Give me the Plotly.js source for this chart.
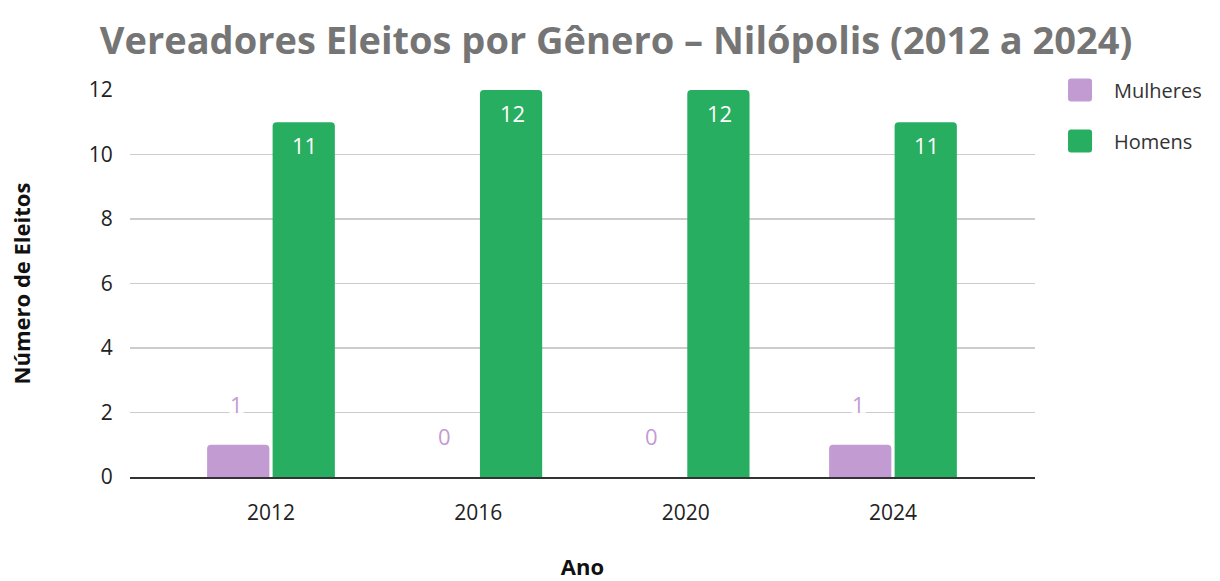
<!DOCTYPE html>
<html><head><meta charset="utf-8">
<script src="https://cdn.plot.ly/plotly-3.0.1.min.js"></script>
<style>body{margin:0;background:#fff}#c{width:1220px;height:581px}</style>
</head><body><div id="c"></div>
<script>
const years = ['2012', '2016', '2020', '2024'];
const mulheres = [1, 0, 0, 1];
const homens = [11, 12, 12, 11];
const seriesNames = ['Mulheres', 'Homens'];
const colors = ['#C39BD3', '#27AE60'];
const font = 'Open Sans, Noto Sans, sans-serif';

const traces = [
  {type: 'bar', name: seriesNames[0], x: years, y: mulheres, marker: {color: colors[0], cornerradius: 4},
   hoverinfo: 'none', showlegend: false},
  {type: 'bar', name: seriesNames[1], x: years, y: homens, marker: {color: colors[1], cornerradius: 4},
   hoverinfo: 'none', showlegend: false}
];

const annotations = [];
years.forEach((yr, i) => {
  annotations.push({x: i, y: mulheres[i], xref: 'x', yref: 'y', text: String(mulheres[i]), showarrow: false,
    xshift: -34, yshift: 41, font: {family: font, size: 22, color: colors[0]}, bgcolor: 'rgba(255,255,255,0.9)', borderpad: 0});
  annotations.push({x: i, y: homens[i], xref: 'x', yref: 'y', text: String(homens[i]), showarrow: false,
    xshift: 34, yshift: -23, font: {family: font, size: 22, color: '#ffffff'}});
});

// custom legend (larger swatches)
const legendY = [1.0, 0.868];
const shapes = [];
seriesNames.forEach((nm, k) => {
  const r = 3, w = 24, h = 23;
  shapes.push({type: 'path', xref: 'paper', yref: 'paper', xsizemode: 'pixel', ysizemode: 'pixel',
    xanchor: 1.0365, yanchor: legendY[k],
    path: `M ${r} ${-h/2} L ${w-r} ${-h/2} Q ${w} ${-h/2} ${w} ${-h/2+r} L ${w} ${h/2-r} Q ${w} ${h/2} ${w-r} ${h/2} L ${r} ${h/2} Q 0 ${h/2} 0 ${h/2-r} L 0 ${-h/2+r} Q 0 ${-h/2} ${r} ${-h/2} Z`,
    fillcolor: colors[k], line: {width: 0}});
  annotations.push({xref: 'paper', yref: 'paper', x: 1.0365, y: legendY[k], xshift: 44, xanchor: 'left', yanchor: 'middle',
    text: nm, showarrow: false, font: {family: font, size: 20, color: '#333'}});
});

const layout = {
  width: 1220, height: 581,
  margin: {l: 130, r: 185, t: 90, b: 104},
  paper_bgcolor: '#fff', plot_bgcolor: '#fff',
  title: {text: 'Vereadores Eleitos por Gênero – Nilópolis (2012 a 2024)', x: 0.505, xanchor: 'center', y: 0.93, yanchor: 'middle',
    font: {family: font, size: 38, color: '#757575', weight: 'bold'}},
  barmode: 'group', bargap: 0.368, bargroupgap: 0.05,
  xaxis: {type: 'category', range: [-0.68, 3.685], showgrid: false, zeroline: false, showline: true, linecolor: '#333', linewidth: 2,
    ticks: 'outside', ticklen: 16, tickcolor: 'rgba(0,0,0,0)', tickfont: {family: font, size: 21, color: '#222'},
    title: {text: 'Ano', font: {family: font, size: 22, color: '#111', weight: 'bold'}, standoff: 46}},
  yaxis: {range: [0, 12], tickvals: [0, 2, 4, 6, 8, 10, 12], showgrid: true, gridcolor: '#cccccc', gridwidth: 1.5, zeroline: false,
    ticks: 'outside', ticklen: 12, tickcolor: 'rgba(0,0,0,0)', tickfont: {family: font, size: 21, color: '#222'},
    title: {text: 'Número de Eleitos', font: {family: font, size: 22, color: '#111', weight: 'bold'}, standoff: 52}},
  shapes: shapes,
  annotations: annotations,
  showlegend: false
};
Plotly.newPlot('c', traces, layout, {staticPlot: true});
</script></body></html>
